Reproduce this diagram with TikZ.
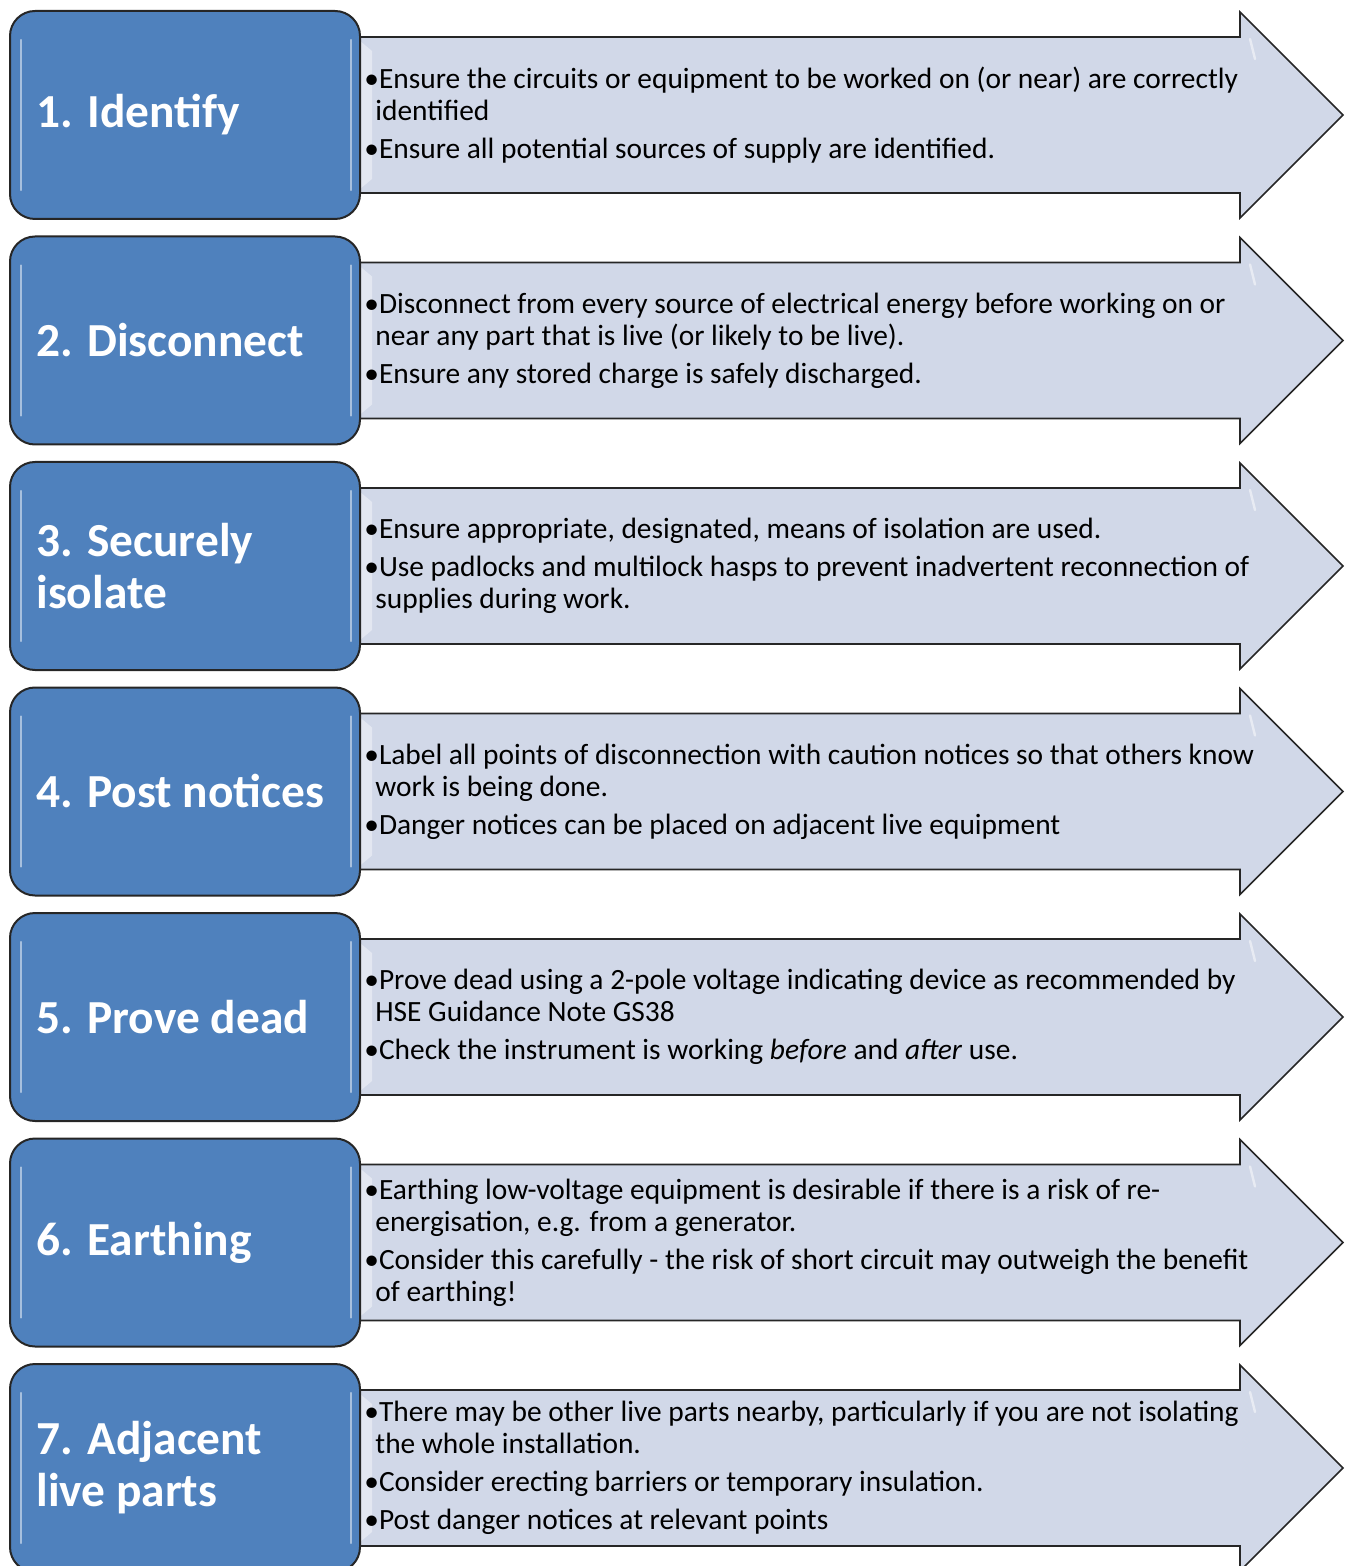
\documentclass[tikz,border=0pt]{standalone}
\usepackage{fontspec}
\setmainfont{Carlito}
\usetikzlibrary{positioning}
\definecolor{stepblue}{HTML}{4F81BD}
\definecolor{arrowfill}{HTML}{D1D8E8}
\newcommand{\nb}{\\[3pt]•}
\newcommand{\cont}{\\\hspace*{5.5pt}}
\begin{document}
\begin{tikzpicture}[x=0.5pt,y=-0.5pt,
   stepbox/.style={draw=black!85, line width=1pt, fill=stepblue, rounded corners=12.5pt,
      minimum width=175pt, minimum height=104pt, inner sep=0pt},
   steptitle/.style={text=white, font=\fontsize{23.7}{26}\selectfont\bfseries, align=left,
      anchor=west, inner sep=0pt},
   steptext/.style={font=\fontsize{14.7}{16}\selectfont, align=left, anchor=west, inner sep=0pt},
   steparrow/.style={draw=black!85, line width=0.8pt, fill=arrowfill, line join=miter},
   gloss/.style={white, opacity=0.5, line width=1.2pt, line cap=round}]
   \useasboundingbox (0,0) rectangle (1348,1566);
   %righe
   \foreach \i/\title/\body in {
      1/{1. Identify}/{•Ensure the circuits or equipment to be worked on (or near) are correctly\cont identified\nb Ensure all potential sources of supply are identified.},
      2/{2. Disconnect}/{•Disconnect from every source of electrical energy before working on or\cont near any part that is live (or likely to be live).\nb Ensure any stored charge is safely discharged.},
      3/{3. Securely\\isolate}/{•Ensure appropriate, designated, means of isolation are used.\nb Use padlocks and multilock hasps to prevent inadvertent reconnection of\cont supplies during work.},
      4/{4. Post notices}/{•Label all points of disconnection with caution notices so that others know\cont work is being done.\nb Danger notices can be placed on adjacent live equipment},
      5/{5. Prove dead}/{•Prove dead using a 2-pole voltage indicating device as recommended by\cont HSE Guidance Note GS38\nb Check the instrument is working \textit{before} and \textit{after} use.},
      6/{6. Earthing}/{•Earthing low-voltage equipment is desirable if there is a risk of re-\cont energisation, e.g. from a generator.\nb Consider this carefully - the risk of short circuit may outweigh the benefit\cont of earthing!},
      7/{7. Adjacent\\live parts}/{•There may be other live parts nearby, particularly if you are not isolating\cont the whole installation.\nb Consider erecting barriers or temporary insulation.\nb Post danger notices at relevant points}}
   {
      \pgfmathsetmacro{\t}{11+(\i-1)*225.5}
      %freccia
      \draw[steparrow] (340,\t+26) -- (1240,\t+26) -- (1240,\t+1) -- (1343,\t+104)
         -- (1240,\t+207) -- (1240,\t+182) -- (340,\t+182) -- cycle;
      \fill[white, opacity=0.4] (360,\t+30) -- (372,\t+40) -- (372,\t+168) -- (360,\t+178) -- cycle;
      \draw[gloss] (1250,\t+28) -- (1255,\t+48);
      \draw[gloss] (1333,\t+118) -- (1255,\t+196);
      %riquadro
      \node[stepbox] (box\i) at (185,\t+104) {};
      \draw[gloss] ([xshift=6pt,yshift=-15pt]box\i.north west) -- ([xshift=6pt,yshift=15pt]box\i.south west);
      \draw[gloss] ([xshift=-5pt,yshift=-15pt]box\i.north east) -- ([xshift=-5pt,yshift=15pt]box\i.south east);
      \node[steptitle] (title\i) at ([xshift=13.5pt]box\i.west) {\title};
      \node[steptext] (text\i) at ([xshift=1.5pt]box\i.east) {\body};
   }
\end{tikzpicture}
\end{document}
